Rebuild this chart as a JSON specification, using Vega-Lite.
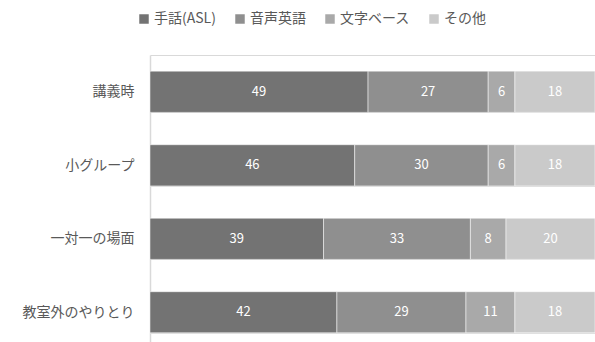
{
  "$schema": "https://vega.github.io/schema/vega-lite/v6.json",
  "width": 445,
  "height": 287,
  "autosize": "none",
  "padding": {"left": 150, "top": 55, "right": 0, "bottom": 0},
  "data": {
    "values": [
      {"cat": "講義時", "series": "手話(ASL)", "k": 1, "value": 49},
      {"cat": "講義時", "series": "音声英語", "k": 2, "value": 27},
      {"cat": "講義時", "series": "文字ベース", "k": 3, "value": 6},
      {"cat": "講義時", "series": "その他", "k": 4, "value": 18},
      {"cat": "小グループ", "series": "手話(ASL)", "k": 1, "value": 46},
      {"cat": "小グループ", "series": "音声英語", "k": 2, "value": 30},
      {"cat": "小グループ", "series": "文字ベース", "k": 3, "value": 6},
      {"cat": "小グループ", "series": "その他", "k": 4, "value": 18},
      {"cat": "一対一の場面", "series": "手話(ASL)", "k": 1, "value": 39},
      {"cat": "一対一の場面", "series": "音声英語", "k": 2, "value": 33},
      {"cat": "一対一の場面", "series": "文字ベース", "k": 3, "value": 8},
      {"cat": "一対一の場面", "series": "その他", "k": 4, "value": 20},
      {"cat": "教室外のやりとり", "series": "手話(ASL)", "k": 1, "value": 42},
      {"cat": "教室外のやりとり", "series": "音声英語", "k": 2, "value": 29},
      {"cat": "教室外のやりとり", "series": "文字ベース", "k": 3, "value": 11},
      {"cat": "教室外のやりとり", "series": "その他", "k": 4, "value": 18}
    ]
  },
  "transform": [
    {"stack": "value", "groupby": ["cat"], "sort": [{"field": "k", "order": "ascending"}], "as": ["v0", "v1"]},
    {"calculate": "(datum.v0 + datum.v1) / 2", "as": "mid"}
  ],
  "encoding": {
    "y": {
      "field": "cat",
      "type": "nominal",
      "sort": ["講義時", "小グループ", "一対一の場面", "教室外のやりとり"],
      "scale": {"paddingInner": 0.44, "paddingOuter": 0.1725, "align": 0.64},
      "axis": {
        "title": null,
        "ticks": false,
        "tickBand": "extent",
        "grid": true,
        "gridColor": "#d9d9d9",
        "gridWidth": 1,
        "domainColor": "#d9d9d9",
        "domainWidth": 1.5,
        "labelPadding": 16,
        "labelFont": "Noto Sans CJK JP",
        "labelFontSize": 14,
        "labelColor": "#595959"
      }
    }
  },
  "layer": [
    {
      "mark": {"type": "bar", "stroke": "#ffffff", "strokeWidth": 0.5},
      "encoding": {
        "x": {
          "field": "v0",
          "type": "quantitative",
          "scale": {"domain": [0, 100], "nice": false},
          "axis": {"orient": "top", "title": null, "labels": false, "ticks": false, "grid": false, "domainColor": "#d9d9d9", "domainWidth": 1}
        },
        "x2": {"field": "v1"},
        "color": {
          "field": "series",
          "type": "nominal",
          "scale": {
            "domain": ["手話(ASL)", "音声英語", "文字ベース", "その他"],
            "range": ["#737373", "#8f8f8f", "#a9a9a9", "#cacaca"]
          },
          "legend": {
            "title": null,
            "orient": "none",
            "direction": "horizontal",
            "legendX": -13,
            "legendY": -43,
            "padding": 0,
            "symbolType": "square",
            "symbolSize": 90,
            "symbolStrokeWidth": 0,
            "labelOffset": 3,
            "columnPadding": 17,
            "labelFont": "Noto Sans CJK JP",
            "labelFontSize": 14,
            "labelColor": "#595959"
          }
        }
      }
    },
    {
      "mark": {"type": "text", "color": "#ffffff", "font": "Noto Sans CJK JP", "fontSize": 13},
      "encoding": {
        "x": {"field": "mid", "type": "quantitative", "scale": {"domain": [0, 100], "nice": false}},
        "text": {"field": "value", "type": "quantitative"}
      }
    }
  ],
  "config": {"view": {"stroke": null}}
}
